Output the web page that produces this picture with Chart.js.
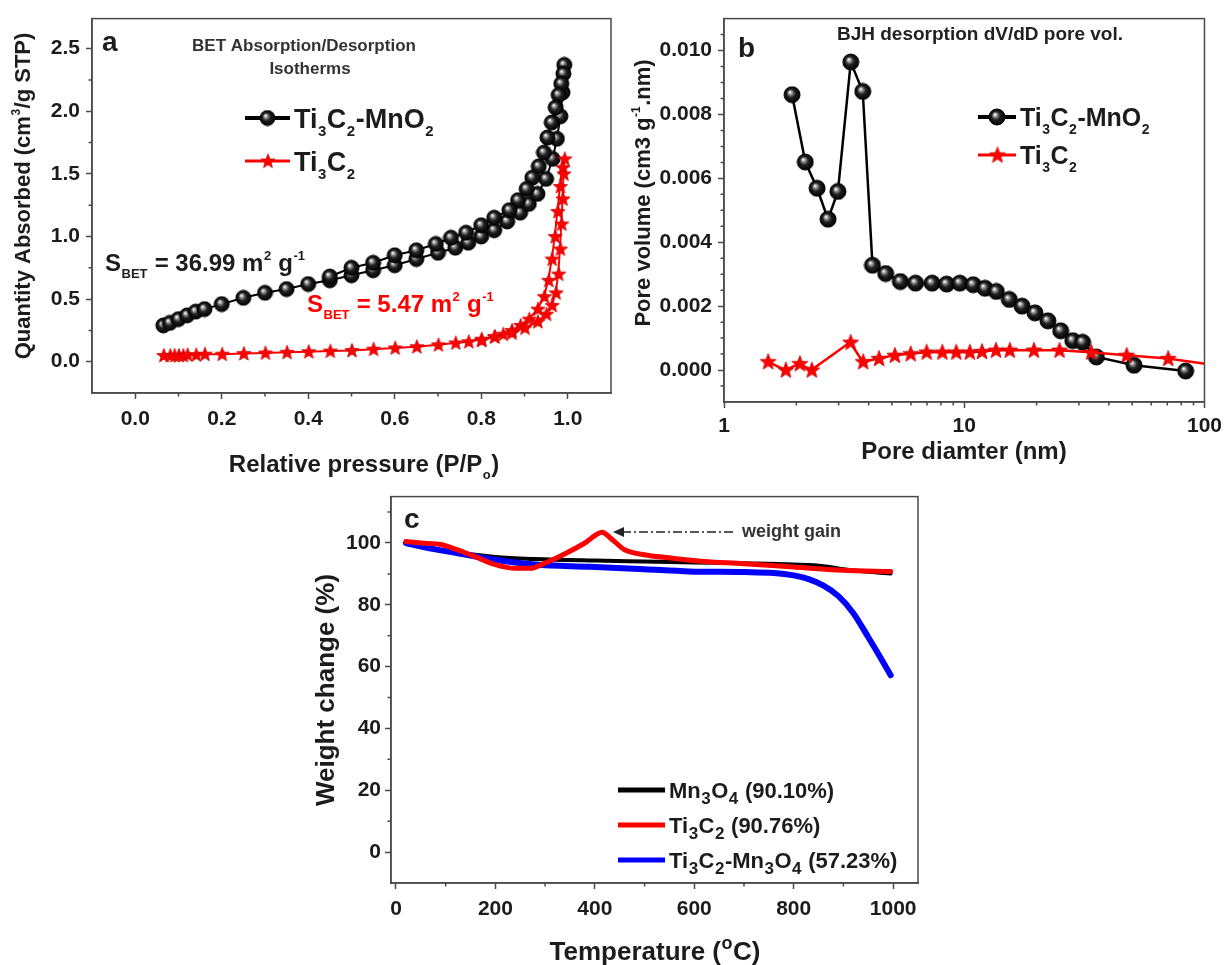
<!DOCTYPE html>
<html>
<head>
<meta charset="utf-8">
<script src="https://cdn.jsdelivr.net/npm/chart.js@4.4.0/dist/chart.umd.min.js"></script>
<style>
  body { margin: 0; background: #fff; width: 1228px; height: 965px; position: relative; overflow: hidden; }
  canvas { position: absolute; }
</style>
</head>
<body>
<canvas id="chartA" width="620" height="480" style="left:0;top:0"></canvas>
<canvas id="chartB" width="608" height="480" style="left:620px;top:0"></canvas>
<canvas id="chartC" width="700" height="485" style="left:250px;top:480px"></canvas>
<script>
// ── (a) BET isotherms: relative pressure / quantity absorbed ──────────────
// adsorption branch first, then desorption back down (hysteresis loop)
const aMnO2P = [0.065,0.08,0.10,0.12,0.14,0.16,0.20,0.25,0.30,0.35,0.40,0.45,0.50,0.55,0.60,0.65,0.70,0.74,0.77,0.80,0.83,0.86,0.89,0.91,0.93,0.95,0.965,0.975,0.983,0.988,0.992,
                0.990,0.985,0.979,0.972,0.963,0.953,0.945,0.933,0.918,0.905,0.885,0.865,0.830,0.800,0.765,0.730,0.695,0.650,0.600,0.550,0.500,0.450];
const aMnO2Q = [0.29,0.31,0.34,0.37,0.40,0.42,0.46,0.51,0.55,0.58,0.62,0.65,0.69,0.73,0.77,0.82,0.87,0.91,0.95,1.00,1.05,1.12,1.19,1.26,1.34,1.46,1.62,1.78,1.96,2.15,2.37,
                2.30,2.22,2.13,2.03,1.91,1.79,1.67,1.56,1.47,1.38,1.29,1.21,1.15,1.09,1.03,0.99,0.94,0.89,0.85,0.79,0.75,0.68];
const aTiP = [0.065,0.08,0.09,0.10,0.11,0.12,0.14,0.16,0.20,0.25,0.30,0.35,0.40,0.45,0.50,0.55,0.60,0.65,0.70,0.74,0.77,0.80,0.83,0.85,0.87,0.89,0.91,0.93,0.945,0.955,0.963,0.970,0.976,0.982,0.988,0.992,
              0.990,0.988,0.985,0.982,0.978,0.972,0.963,0.950,0.930,0.900,0.870,0.830,0.800];
const aTiQ = [0.05,0.05,0.05,0.05,0.05,0.055,0.055,0.06,0.06,0.065,0.07,0.075,0.08,0.085,0.09,0.10,0.11,0.12,0.135,0.15,0.16,0.18,0.20,0.22,0.25,0.29,0.34,0.42,0.52,0.65,0.82,1.00,1.20,1.40,1.55,1.62,
              1.50,1.30,1.10,0.90,0.70,0.55,0.45,0.38,0.32,0.27,0.23,0.20,0.17];
const aXTicks = [0, 0.2, 0.4, 0.6, 0.8, 1.0];
const aXLabels = ['0.0', '0.2', '0.4', '0.6', '0.8', '1.0'];
const aYTicks = [0, 0.5, 1.0, 1.5, 2.0, 2.5];
const aYLabels = ['0.0', '0.5', '1.0', '1.5', '2.0', '2.5'];

// ── (b) BJH pore size distribution ────────────────────────────────────────
const bMnO2D = [1.92,2.18,2.44,2.71,2.98,3.37,3.78,4.15,4.71,5.42,6.27,7.35,8.45,9.58,10.9,12.2,13.6,15.4,17.4,19.7,22.3,25.2,28.3,31.1,35.5,50.9,83.5];
const bMnO2V = [0.00862,0.00651,0.00569,0.00472,0.00559,0.00964,0.00872,0.00328,0.00302,0.00277,0.00272,0.00272,0.00269,0.00272,0.00267,0.00256,0.00246,0.00221,0.00200,0.00179,0.00154,0.00123,0.00092,0.00087,0.00041,0.00015,-0.00003];
const bTiD = [1.52,1.80,2.06,2.31,3.35,3.78,4.40,5.12,5.96,6.94,8.07,9.22,10.5,11.8,13.5,15.4,19.4,24.8,33.6,47.2,70.3,120];
const bTiV = [0.00026,0.00000,0.00020,0.00000,0.00087,0.00026,0.00036,0.00046,0.00051,0.00056,0.00056,0.00056,0.00056,0.00058,0.00062,0.00062,0.00062,0.00062,0.00056,0.00046,0.00036,0.00012];
const bXTicks = [1, 10, 100];
const bXLabels = ['1', '10', '100'];
const bYTicks = [0, 0.002, 0.004, 0.006, 0.008, 0.010];
const bYLabels = ['0.000', '0.002', '0.004', '0.006', '0.008', '0.010'];

// ── (c) TGA weight change ─────────────────────────────────────────────────
const cMnT = [20,100,200,280,400,500,600,700,800,860,900,995];
const cMnW = [100,97.5,95.5,94.8,94.3,94,93.7,93.4,93,92.5,91.5,90.1];
const cTiT = [20,50,90,120,160,200,240,270,300,340,380,415,430,460,500,560,620,700,800,900,995];
const cTiW = [100.5,100,99.5,98,95.5,93,91.8,91.8,93.5,96.5,100,103.5,101.8,97.8,96.2,95,94,93.3,92.2,91.2,90.76];
const cCompT = [20,60,120,190,280,390,500,590,700,760,800,830,860,890,920,950,975,995];
const cCompW = [100,98.5,96.8,94.8,93,92.3,91.5,90.8,90.6,90.3,89.5,88.3,86.2,82.8,77.3,69.5,62.8,57.23];
const cXTicks = [0, 200, 400, 600, 800, 1000];
const cXLabels = ['0', '200', '400', '600', '800', '1000'];
const cYTicks = [0, 20, 40, 60, 80, 100];
const cYLabels = ['0', '20', '40', '60', '80', '100'];

const FONT = '"Liberation Sans", Arial, Helvetica, sans-serif';
const INK  = '#1c1c1c';
const AXIS = '#4a4a4a';
const RED  = '#ff0000';
const BLUE = '#0000ff';

const zip = (xs, ys) => xs.map((x, i) => ({ x, y: ys[i] }));

// ── marker images ─────────────────────────────────────────────────────────
function sphere(r) {
  const d = Math.ceil(2 * r + 2), c = document.createElement('canvas');
  c.width = c.height = d;
  const g = c.getContext('2d'), m = d / 2;
  const grad = g.createRadialGradient(m - r * 0.28, m - r * 0.32, r * 0.05, m, m, r);
  grad.addColorStop(0, '#ffffff');
  grad.addColorStop(0.18, '#a0a0a0');
  grad.addColorStop(0.5, '#222');
  grad.addColorStop(1, '#000');
  g.fillStyle = grad;
  g.beginPath(); g.arc(m, m, r, 0, Math.PI * 2); g.fill();
  g.strokeStyle = '#000'; g.lineWidth = 1; g.stroke();
  return c;
}

function star(r, color) {
  const d = Math.ceil(2 * r + 2), c = document.createElement('canvas');
  c.width = c.height = d;
  const g = c.getContext('2d'), m = d / 2 + 0.5;
  g.beginPath();
  for (let i = 0; i < 10; i++) {
    const rr = i % 2 ? r * 0.42 : r, ang = -Math.PI / 2 + i * Math.PI / 5;
    g.lineTo(m + rr * Math.cos(ang), m + rr * Math.sin(ang));
  }
  g.closePath();
  g.fillStyle = color; g.fill();
  g.strokeStyle = '#d00000'; g.lineWidth = 0.8; g.stroke();
  return c;
}

const SPHERE_A = sphere(7.5), STAR_A = star(7.5, RED);
const SPHERE_B = sphere(8),   STAR_B = star(8.5, RED);

// ── rich text (sub/superscripts written as _{..} and ^{..}) ───────────────
function parseRich(s) {
  const out = [], re = /([_^])\{([^}]*)\}|([^_^]+)/g;
  let m;
  while ((m = re.exec(s))) {
    if (m[1]) out.push([m[2], m[1] === '_' ? 'sub' : 'sup']);
    else out.push([m[3], '']);
  }
  return out;
}

function drawRich(ctx, s, x, yc, size, color, opt = {}) {
  const parts = parseRich(s);
  const sc = opt.scale || 0.55, subDy = opt.subDy ?? 0.32, supDy = opt.supDy ?? -0.45;
  const fontOf = p => `bold ${p[1] ? Math.round(size * sc) : size}px ${FONT}`;
  let w = 0;
  parts.forEach(p => { ctx.font = fontOf(p); w += ctx.measureText(p[0]).width + (p[1] ? 1 : 0); });
  let cx = opt.align === 'center' ? x - w / 2 : opt.align === 'right' ? x - w : x;
  const base = yc + size * 0.36;
  ctx.fillStyle = color; ctx.textAlign = 'left'; ctx.textBaseline = 'alphabetic';
  parts.forEach(p => {
    ctx.font = fontOf(p);
    const dy = p[1] === 'sub' ? size * subDy : p[1] === 'sup' ? size * supDy : 0;
    ctx.fillText(p[0], cx + (p[1] ? 0.5 : 0), base + dy);
    cx += ctx.measureText(p[0]).width + (p[1] ? 1 : 0);
  });
}

function drawRotated(ctx, s, xc, yc, size, color) {
  ctx.save();
  ctx.translate(xc, yc);
  ctx.rotate(-Math.PI / 2);
  drawRich(ctx, s, 0, 0, size, color, { align: 'center' });
  ctx.restore();
}

function legendRow(ctx, x0, x1, y, color, lw, img, label, size, opt) {
  ctx.strokeStyle = color; ctx.lineWidth = lw; ctx.setLineDash([]);
  ctx.beginPath(); ctx.moveTo(x0, y); ctx.lineTo(x1, y); ctx.stroke();
  if (img) ctx.drawImage(img, (x0 + x1) / 2 - img.width / 2, y - img.height / 2);
  drawRich(ctx, label, x1 + 4, y, size, INK, opt);
}

// ── axes / decoration helpers ─────────────────────────────────────────────
function axisCfg(a, horiz) {
  return {
    type: a.type || 'linear', min: a.min, max: a.max,
    afterBuildTicks: s => { s.ticks = a.ticks.map(v => ({ value: v })); },
    afterFit: s => { if (horiz) s.height = a.size; else s.width = a.size; },
    ticks: { callback: (v, i) => a.labels[i], autoSkip: false, maxRotation: 0, padding: a.pad,
             color: INK, font: { family: FONT, size: a.font, weight: 'bold' } },
    grid: { drawOnChartArea: false, drawTicks: true, tickLength: 6, tickColor: AXIS, tickWidth: 1.5 },
    border: { display: true, color: AXIS, width: 1.5 }
  };
}

function decor(panel, sc, extra) {
  return {
    id: 'decor' + panel.id,
    afterDraw(chart) {
      const ctx = chart.ctx, a = chart.chartArea, xs = chart.scales.x, ys = chart.scales.y;
      ctx.save();
      ctx.strokeStyle = AXIS; ctx.lineWidth = 1.5;
      ctx.strokeRect(a.left, a.top, a.right - a.left, a.bottom - a.top);
      ctx.beginPath();
      sc.x.minor.forEach(v => { const p = xs.getPixelForValue(v); ctx.moveTo(p, a.bottom); ctx.lineTo(p, a.bottom + 3.5); });
      sc.y.minor.forEach(v => { const p = ys.getPixelForValue(v); ctx.moveTo(a.left, p); ctx.lineTo(a.left - 3.5, p); });
      ctx.stroke();
      ctx.translate(-panel.x, -panel.y);
      extra(ctx);
      ctx.restore();
    }
  };
}

function buildChart(panel, datasets, sc, extra) {
  return new Chart(document.getElementById(panel.id), {
    type: 'scatter',
    data: { datasets },
    options: {
      responsive: false, animation: false, events: [],
      layout: { padding: { top: panel.top, right: panel.right, left: 0, bottom: 0 } },
      plugins: { legend: { display: false }, tooltip: { enabled: false } },
      scales: { x: axisCfg(sc.x, true), y: axisCfg(sc.y, false) }
    },
    plugins: [decor(panel, sc, extra)]
  });
}

// ── (a) ────────────────────────────────────────────────────────────────────
buildChart({ id: 'chartA', x: 0, y: 0, top: 13, right: 9 }, [
  { data: zip(aTiP, aTiQ), showLine: true, borderColor: RED, borderWidth: 2,
    pointStyle: STAR_A, pointRadius: 7, order: 0 },
  { data: zip(aMnO2P, aMnO2Q), showLine: true, borderColor: '#000', borderWidth: 2,
    pointStyle: SPHERE_A, pointRadius: 7, order: 1 }
], {
  x: { min: -0.1, max: 1.1, ticks: aXTicks, labels: aXLabels, size: 87, pad: 8, font: 21,
       minor: [0.1, 0.3, 0.5, 0.7, 0.9] },
  y: { min: -0.25, max: 2.74, ticks: aYTicks, labels: aYLabels, size: 92, pad: 6, font: 21,
       minor: [0.25, 0.75, 1.25, 1.75, 2.25] }
}, ctx => {
  drawRich(ctx, 'a', 102, 41, 28, INK);
  drawRich(ctx, 'BET Absorption/Desorption', 304, 45, 17, '#333', { align: 'center' });
  drawRich(ctx, 'Isotherms', 310, 68, 17, '#333', { align: 'center' });
  legendRow(ctx, 245, 290, 118, '#000', 4, SPHERE_A, 'Ti_{3}C_{2}-MnO_{2}', 27);
  legendRow(ctx, 245, 290, 161, RED, 3, STAR_A, 'Ti_{3}C_{2}', 27);
  drawRich(ctx, 'S_{BET} = 36.99 m^{2} g^{-1}', 105, 262, 24, INK);
  drawRich(ctx, 'S_{BET} = 5.47 m^{2} g^{-1}', 307, 303, 24, RED);
  drawRotated(ctx, 'Quantity Absorbed (cm^{3}/g STP)', 22, 196, 22, INK);
  drawRich(ctx, 'Relative pressure (P/P_{o})', 364, 463, 24, INK, { align: 'center' });
});

// ── (b) ────────────────────────────────────────────────────────────────────
buildChart({ id: 'chartB', x: 620, y: 0, top: 16, right: 19 }, [
  { data: zip(bTiD, bTiV), showLine: true, borderColor: RED, borderWidth: 2.5,
    pointStyle: STAR_B, pointRadius: 8, order: 0 },
  { data: zip(bMnO2D, bMnO2V), showLine: true, borderColor: '#000', borderWidth: 2.5,
    pointStyle: SPHERE_B, pointRadius: 8, order: 1 }
], {
  x: { type: 'logarithmic', min: 1, max: 100, ticks: bXTicks, labels: bXLabels, size: 78, pad: 6, font: 21,
       minor: [2, 3, 4, 5, 6, 7, 8, 9, 20, 30, 40, 50, 60, 70, 80, 90] },
  y: { min: -0.001, max: 0.011, ticks: bYTicks, labels: bYLabels, size: 104, pad: 6, font: 21,
       minor: [-0.0005, 0.0005, 0.001, 0.0015, 0.0025, 0.003, 0.0035, 0.0045, 0.005, 0.0055,
               0.0065, 0.007, 0.0075, 0.0085, 0.009, 0.0095, 0.0105] }
}, ctx => {
  drawRich(ctx, 'b', 738, 47, 28, INK);
  drawRich(ctx, 'BJH desorption dV/dD pore vol.', 980, 33, 19, '#222', { align: 'center' });
  legendRow(ctx, 978, 1016, 117, '#000', 4, SPHERE_B, 'Ti_{3}C_{2}-MnO_{2}', 25);
  legendRow(ctx, 978, 1016, 155, RED, 3, STAR_B, 'Ti_{3}C_{2}', 25);
  drawRotated(ctx, 'Pore volume (cm3 g^{-1}.nm)', 642, 193, 22, INK);
  drawRich(ctx, 'Pore diamter (nm)', 964, 450, 24, INK, { align: 'center' });
});

// ── (c) ────────────────────────────────────────────────────────────────────
const tgaLine = (t, w, color, width, order) => ({
  data: zip(t, w), showLine: true, borderColor: color, borderWidth: width, pointRadius: 0,
  cubicInterpolationMode: 'monotone', borderCapStyle: 'round', borderJoinStyle: 'round', order
});

buildChart({ id: 'chartC', x: 250, y: 480, top: 15, right: 32 }, [
  tgaLine(cMnT, cMnW, '#000', 4, 2),
  tgaLine(cTiT, cTiW, RED, 5, 0),
  tgaLine(cCompT, cCompW, BLUE, 6, 1)
], {
  x: { min: -10, max: 1050, ticks: cXTicks, labels: cXLabels, size: 82, pad: 8, font: 21,
       minor: [100, 300, 500, 700, 900] },
  y: { min: -10, max: 115, ticks: cYTicks, labels: cYLabels, size: 141, pad: 4, font: 21,
       minor: [10, 30, 50, 70, 90, 110] }
}, ctx => {
  drawRich(ctx, 'c', 404, 518, 28, INK);
  // weight gain arrow
  ctx.strokeStyle = '#222'; ctx.lineWidth = 1.5;
  ctx.setLineDash([9, 3, 2, 3]);
  ctx.beginPath(); ctx.moveTo(622, 532); ctx.lineTo(736, 532); ctx.stroke();
  ctx.setLineDash([]);
  ctx.fillStyle = '#222';
  ctx.beginPath(); ctx.moveTo(613, 532); ctx.lineTo(624, 527); ctx.lineTo(624, 537); ctx.closePath(); ctx.fill();
  drawRich(ctx, 'weight gain', 742, 531, 18, '#333');
  const lg = { scale: 0.78, subDy: 0.28 };
  legendRow(ctx, 618, 665, 790, '#000', 5, null, 'Mn_{3}O_{4} (90.10%)', 22, lg);
  legendRow(ctx, 618, 665, 825, RED, 5, null, 'Ti_{3}C_{2} (90.76%)', 22, lg);
  legendRow(ctx, 618, 665, 860, BLUE, 5, null, 'Ti_{3}C_{2}-Mn_{3}O_{4} (57.23%)', 22, lg);
  drawRotated(ctx, 'Weight change (%)', 325, 690, 26, INK);
  drawRich(ctx, 'Temperature (^{o}C)', 655, 951, 26, INK, { align: 'center', scale: 0.7 });
});
</script>
</body>
</html>
